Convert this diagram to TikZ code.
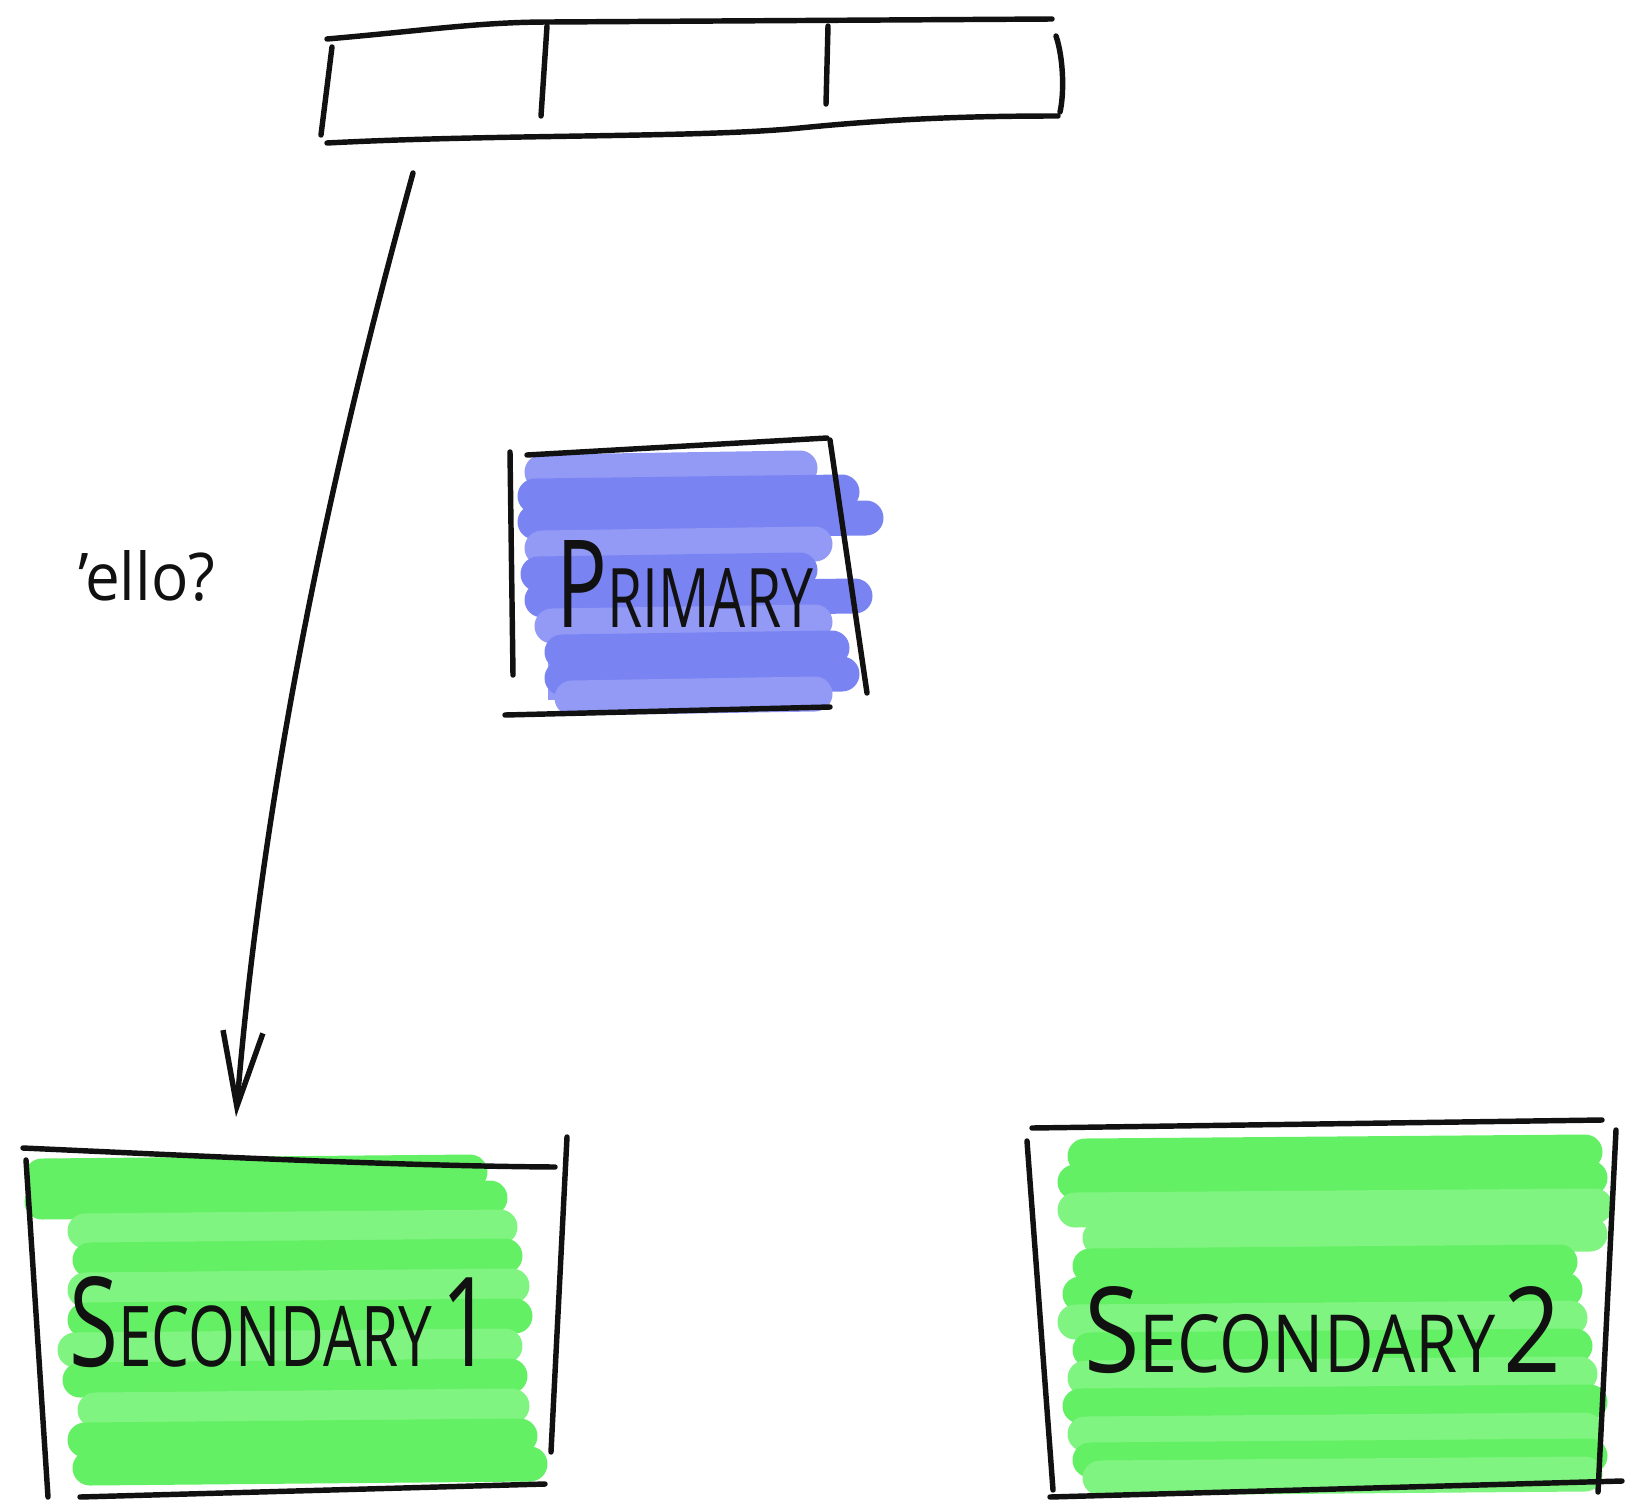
\documentclass[tikz,border=0pt]{standalone}
\usepackage{fontspec}
\setmainfont{Open Sans}
\usetikzlibrary{arrows.meta}
\definecolor{ink}{HTML}{111111}
\definecolor{blueA}{RGB}{122,131,242}
\definecolor{blueB}{RGB}{146,154,246}
\definecolor{greenA}{RGB}{100,240,100}
\definecolor{greenB}{RGB}{128,244,128}
\newcommand\HBig[1]{{\fontsize{40}{40}\selectfont #1}}
\newcommand\HSmall[1]{{\fontsize{27}{27}\selectfont #1}}
\begin{document}
\begin{tikzpicture}[x=0.02cm,y=-0.02cm,
  hand/.style={draw=ink,line width=3.1pt,line cap=round,line join=round},
  marker/.style={line width=0.7cm,line cap=round},
  lab/.style={inner sep=0pt,anchor=base west,text=ink}]

\useasboundingbox[fill=white] (0,0) rectangle (1626,1501);

% ---------- marker fills ----------
\fill[blueB] (548,470) rectangle (805,700);
\foreach \y/\a/\b/\c in {470/542/800/blueB, 494/535/842/blueA, 520/535/866/blueA,
  546/542/815/blueB, 572/538/800/blueA, 598/542/855/blueA, 624/552/815/blueB,
  650/562/832/blueA, 676/562/842/blueA, 696/572/815/blueB}
  \draw[marker,draw=\c] (\a,\y+2) -- (\b,\y-2);

\fill[greenB] (95,1175) rectangle (480,1470);
\foreach \y/\a/\b/\c in {1174/42/470/greenA, 1200/42/490/greenA, 1229/85/500/greenB,
  1258/90/505/greenA, 1288/85/512/greenB, 1318/85/515/greenA, 1348/75/505/greenB,
  1378/80/510/greenA, 1408/95/512/greenB, 1438/85/520/greenA, 1466/90/530/greenA}
  \draw[marker,draw=\c] (\a,\y+2) -- (\b,\y-2);

\fill[greenB] (1105,1155) rectangle (1560,1475);
\foreach \y/\a/\b/\c in {1154/1085/1585/greenA, 1180/1075/1590/greenA, 1208/1075/1595/greenB,
  1236/1100/1590/greenB, 1264/1090/1560/greenA, 1292/1080/1565/greenA, 1320/1075/1570/greenB,
  1348/1090/1575/greenA, 1376/1085/1580/greenB, 1404/1080/1590/greenA, 1432/1085/1585/greenB,
  1458/1090/1590/greenA, 1476/1100/1585/greenB}
  \draw[marker,draw=\c] (\a,\y+2) -- (\b,\y-2);

% ---------- top bar ----------
\draw[hand] (327,39) .. controls (430,30) and (480,22) .. (550,22) -- (1052,19);
\draw[hand] (332,47) -- (321,135);
\draw[hand] (327,143) .. controls (500,134) and (700,138) .. (800,128) .. controls (900,118) and (980,116) .. (1058,116);
\draw[hand] (1056,36) .. controls (1064,60) and (1064,95) .. (1060,112);
\draw[hand] (547,26) -- (541,116);
\draw[hand] (828,26) -- (826,104);

% ---------- primary box ----------
\draw[hand] (510,452) -- (513,675);
\draw[hand] (527,455) -- (827,438);
\draw[hand] (830,440) -- (867,693);
\draw[hand] (505,715) -- (830,707);

% ---------- secondary 1 box ----------
\draw[hand] (23,1148) .. controls (200,1156) and (400,1166) .. (555,1167);
\draw[hand] (26,1160) -- (48,1497);
\draw[hand] (567,1137) -- (551,1452);
\draw[hand] (80,1497) -- (545,1484);

% ---------- secondary 2 box ----------
\draw[hand] (1032,1128) -- (1602,1120);
\draw[hand] (1027,1141) -- (1053,1490);
\draw[hand] (1616,1130) -- (1598,1492);
\draw[hand] (1050,1497) -- (1622,1481);

% ---------- texts ----------
\node[lab] (primary) at (556,627) {\resizebox{5.14cm}{1.74cm}{\HBig{P}\HSmall{RIMARY}}};
\node[lab] (sec1) at (69,1366) {\resizebox{8.46cm}{1.8cm}{\HBig{S}\HSmall{ECONDARY}\hspace{0.4em}\HBig{1}}};
\node[lab] (sec2) at (1084,1372) {\resizebox{9.54cm}{1.72cm}{\HBig{S}\HSmall{ECONDARY}\hspace{0.3em}\HBig{2}}};
\node[lab] (hello) at (78,600) {\resizebox{2.74cm}{1cm}{'ello?}};

% ---------- arrow ----------
\coordinate (astart) at (413,173);
\coordinate (aend) at (236,1117);
\draw[hand,-{Straight Barb[length=1.5cm,width=0.8cm]}] (astart) .. controls (370,330) and (270,700) .. (aend);

\end{tikzpicture}
\end{document}
